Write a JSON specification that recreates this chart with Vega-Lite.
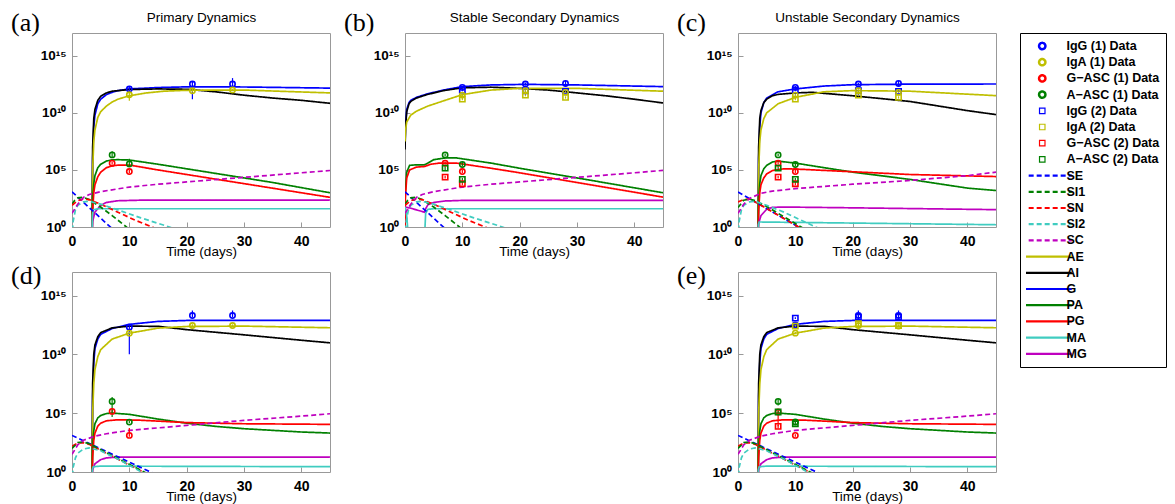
{
"$schema":"https://vega.github.io/schema/vega-lite/v6.json",
"padding":{"left":10,"top":9,"right":5,"bottom":5},
"datasets":{
"curves":[
{"p":"a","s":"G","t":3.5,"v":0.1},{"p":"a","s":"G","t":3.6,"v":1e6},{"p":"a","s":"G","t":3.8,"v":6.31e8},{"p":"a","s":"G","t":4,"v":6.31e9},{"p":"a","s":"G","t":4.5,"v":6.31e10},{"p":"a","s":"G","t":5,"v":1.58e11},{"p":"a","s":"G","t":6,"v":3.98e11},{"p":"a","s":"G","t":7,"v":6.31e11},{"p":"a","s":"G","t":8,"v":8.91e11},{"p":"a","s":"G","t":10,"v":1.26e12},{"p":"a","s":"G","t":15,"v":1.66e12},{"p":"a","s":"G","t":20,"v":1.91e12},{"p":"a","s":"G","t":30,"v":1.86e12},{"p":"a","s":"G","t":45,"v":1.48e12},
{"p":"a","s":"AI","t":3.5,"v":0.1},{"p":"a","s":"AI","t":3.6,"v":1e7},{"p":"a","s":"AI","t":3.8,"v":3.16e9},{"p":"a","s":"AI","t":4,"v":2e10},{"p":"a","s":"AI","t":4.5,"v":1.26e11},{"p":"a","s":"AI","t":5,"v":2.82e11},{"p":"a","s":"AI","t":6,"v":5.62e11},{"p":"a","s":"AI","t":7,"v":7.94e11},{"p":"a","s":"AI","t":10,"v":1.12e12},{"p":"a","s":"AI","t":15,"v":1.26e12},{"p":"a","s":"AI","t":20,"v":1.17e12},{"p":"a","s":"AI","t":25,"v":7.08e11},{"p":"a","s":"AI","t":30,"v":3.55e11},{"p":"a","s":"AI","t":35,"v":2e11},{"p":"a","s":"AI","t":40,"v":1.26e11},{"p":"a","s":"AI","t":45,"v":6.92e10},
{"p":"a","s":"AE","t":3.5,"v":0.1},{"p":"a","s":"AE","t":3.6,"v":1e5},{"p":"a","s":"AE","t":3.8,"v":3.16e7},{"p":"a","s":"AE","t":4,"v":3.16e8},{"p":"a","s":"AE","t":4.5,"v":3.98e9},{"p":"a","s":"AE","t":5,"v":1.26e10},{"p":"a","s":"AE","t":6,"v":3.98e10},{"p":"a","s":"AE","t":7,"v":8.91e10},{"p":"a","s":"AE","t":8,"v":1.58e11},{"p":"a","s":"AE","t":10,"v":3.16e11},{"p":"a","s":"AE","t":13,"v":5.62e11},{"p":"a","s":"AE","t":16,"v":7.94e11},{"p":"a","s":"AE","t":20,"v":9.55e11},{"p":"a","s":"AE","t":30,"v":1e12},{"p":"a","s":"AE","t":45,"v":5.62e11},
{"p":"a","s":"PA","t":3.5,"v":0.1},{"p":"a","s":"PA","t":3.6,"v":316},{"p":"a","s":"PA","t":3.8,"v":6310},{"p":"a","s":"PA","t":4,"v":3.16e4},{"p":"a","s":"PA","t":4.5,"v":1.58e5},{"p":"a","s":"PA","t":5,"v":3.16e5},{"p":"a","s":"PA","t":6,"v":6.03e5},{"p":"a","s":"PA","t":7,"v":7.59e5},{"p":"a","s":"PA","t":8,"v":7.94e5},{"p":"a","s":"PA","t":10,"v":7.41e5},{"p":"a","s":"PA","t":15,"v":3.16e5},{"p":"a","s":"PA","t":20,"v":1.26e5},{"p":"a","s":"PA","t":25,"v":5.01e4},{"p":"a","s":"PA","t":30,"v":2e4},{"p":"a","s":"PA","t":35,"v":7940},{"p":"a","s":"PA","t":40,"v":2820},{"p":"a","s":"PA","t":45,"v":1000},
{"p":"a","s":"PG","t":3.5,"v":0.1},{"p":"a","s":"PG","t":3.6,"v":31.6},{"p":"a","s":"PG","t":3.8,"v":1000},{"p":"a","s":"PG","t":4,"v":5010},{"p":"a","s":"PG","t":4.5,"v":2.51e4},{"p":"a","s":"PG","t":5,"v":6.31e4},{"p":"a","s":"PG","t":6,"v":1.58e5},{"p":"a","s":"PG","t":7,"v":2.24e5},{"p":"a","s":"PG","t":8,"v":2.63e5},{"p":"a","s":"PG","t":10,"v":2.69e5},{"p":"a","s":"PG","t":15,"v":1e5},{"p":"a","s":"PG","t":20,"v":3.98e4},{"p":"a","s":"PG","t":25,"v":1.58e4},{"p":"a","s":"PG","t":30,"v":6310},{"p":"a","s":"PG","t":35,"v":2510},{"p":"a","s":"PG","t":40,"v":1000},{"p":"a","s":"PG","t":45,"v":398},
{"p":"a","s":"MG","t":3.5,"v":0.1},{"p":"a","s":"MG","t":3.6,"v":3.16},{"p":"a","s":"MG","t":4,"v":20},{"p":"a","s":"MG","t":5,"v":79.4},{"p":"a","s":"MG","t":6,"v":141},{"p":"a","s":"MG","t":8,"v":200},{"p":"a","s":"MG","t":12,"v":224},{"p":"a","s":"MG","t":45,"v":224},
{"p":"a","s":"MA","t":3.5,"v":0.1},{"p":"a","s":"MA","t":3.55,"v":10},{"p":"a","s":"MA","t":3.7,"v":31.6},{"p":"a","s":"MA","t":4.5,"v":39.8},{"p":"a","s":"MA","t":45,"v":39.8},
{"p":"a","s":"SE","t":0,"v":1200},{"p":"a","s":"SE","t":8,"v":0.25},
{"p":"a","s":"SI1","t":0,"v":100},{"p":"a","s":"SI1","t":0.5,"v":224},{"p":"a","s":"SI1","t":1,"v":355},{"p":"a","s":"SI1","t":2,"v":398},{"p":"a","s":"SI1","t":3,"v":251},{"p":"a","s":"SI1","t":5,"v":56.2},{"p":"a","s":"SI1","t":7,"v":10},{"p":"a","s":"SI1","t":9,"v":1.58},{"p":"a","s":"SI1","t":10,"v":0.63},
{"p":"a","s":"SN","t":0,"v":79.4},{"p":"a","s":"SN","t":1,"v":200},{"p":"a","s":"SN","t":2,"v":282},{"p":"a","s":"SN","t":3,"v":251},{"p":"a","s":"SN","t":5,"v":100},{"p":"a","s":"SN","t":8,"v":20},{"p":"a","s":"SN","t":11,"v":3.98},{"p":"a","s":"SN","t":14,"v":1},{"p":"a","s":"SN","t":15,"v":0.56},
{"p":"a","s":"SI2","t":0,"v":0.1},{"p":"a","s":"SI2","t":0.2,"v":3.16},{"p":"a","s":"SI2","t":0.6,"v":31.6},{"p":"a","s":"SI2","t":1,"v":79.4},{"p":"a","s":"SI2","t":2,"v":158},{"p":"a","s":"SI2","t":3,"v":178},{"p":"a","s":"SI2","t":5,"v":100},{"p":"a","s":"SI2","t":8,"v":31.6},{"p":"a","s":"SI2","t":12,"v":6.31},{"p":"a","s":"SI2","t":17,"v":1},{"p":"a","s":"SI2","t":18,"v":0.63},
{"p":"a","s":"SC","t":0,"v":15.8},{"p":"a","s":"SC","t":1,"v":100},{"p":"a","s":"SC","t":2,"v":398},{"p":"a","s":"SC","t":3,"v":708},{"p":"a","s":"SC","t":5,"v":1260},{"p":"a","s":"SC","t":10,"v":3160},{"p":"a","s":"SC","t":15,"v":5620},{"p":"a","s":"SC","t":20,"v":8910},{"p":"a","s":"SC","t":30,"v":22400},{"p":"a","s":"SC","t":40,"v":56200},{"p":"a","s":"SC","t":45,"v":89100},

{"p":"b","s":"G","t":0,"v":1e7},{"p":"b","s":"G","t":0.1,"v":1e9},{"p":"b","s":"G","t":0.3,"v":2e10},{"p":"b","s":"G","t":0.7,"v":7.94e10},{"p":"b","s":"G","t":1,"v":1.26e11},{"p":"b","s":"G","t":2,"v":2.29e11},{"p":"b","s":"G","t":3.8,"v":4.47e11},{"p":"b","s":"G","t":6.7,"v":1e12},{"p":"b","s":"G","t":10,"v":2e12},{"p":"b","s":"G","t":15,"v":2.82e12},{"p":"b","s":"G","t":21,"v":3.16e12},{"p":"b","s":"G","t":30,"v":2.82e12},{"p":"b","s":"G","t":45,"v":2e12},
{"p":"b","s":"AI","t":0,"v":6.31e6},{"p":"b","s":"AI","t":0.1,"v":6.31e8},{"p":"b","s":"AI","t":0.3,"v":1.26e10},{"p":"b","s":"AI","t":0.7,"v":6.31e10},{"p":"b","s":"AI","t":1,"v":1e11},{"p":"b","s":"AI","t":2,"v":2e11},{"p":"b","s":"AI","t":3.8,"v":3.98e11},{"p":"b","s":"AI","t":6.7,"v":8.91e11},{"p":"b","s":"AI","t":10,"v":1.58e12},{"p":"b","s":"AI","t":15,"v":1.78e12},{"p":"b","s":"AI","t":20,"v":1.41e12},{"p":"b","s":"AI","t":25,"v":1e12},{"p":"b","s":"AI","t":30,"v":5.62e11},{"p":"b","s":"AI","t":35,"v":3.16e11},{"p":"b","s":"AI","t":40,"v":1.58e11},{"p":"b","s":"AI","t":45,"v":7.41e10},
{"p":"b","s":"AE","t":0,"v":3.16e7},{"p":"b","s":"AE","t":0.1,"v":3.16e8},{"p":"b","s":"AE","t":0.3,"v":1.58e9},{"p":"b","s":"AE","t":1,"v":6.31e9},{"p":"b","s":"AE","t":2,"v":1.41e10},{"p":"b","s":"AE","t":4,"v":3.98e10},{"p":"b","s":"AE","t":7,"v":1.26e11},{"p":"b","s":"AE","t":10,"v":3.98e11},{"p":"b","s":"AE","t":15,"v":1e12},{"p":"b","s":"AE","t":20,"v":1.41e12},{"p":"b","s":"AE","t":30,"v":1.41e12},{"p":"b","s":"AE","t":45,"v":7.94e11},
{"p":"b","s":"PA","t":0,"v":0.1},{"p":"b","s":"PA","t":0.05,"v":1000},{"p":"b","s":"PA","t":0.3,"v":6.31e4},{"p":"b","s":"PA","t":0.8,"v":2.51e5},{"p":"b","s":"PA","t":2,"v":2.82e5},{"p":"b","s":"PA","t":3.4,"v":2.82e5},{"p":"b","s":"PA","t":4,"v":3.98e5},{"p":"b","s":"PA","t":5,"v":7.94e5},{"p":"b","s":"PA","t":7,"v":1.12e6},{"p":"b","s":"PA","t":9,"v":1.12e6},{"p":"b","s":"PA","t":15,"v":3.98e5},{"p":"b","s":"PA","t":20,"v":1.41e5},{"p":"b","s":"PA","t":30,"v":2e4},{"p":"b","s":"PA","t":45,"v":1000},
{"p":"b","s":"PG","t":0,"v":0.1},{"p":"b","s":"PG","t":0.05,"v":316},{"p":"b","s":"PG","t":0.3,"v":2e4},{"p":"b","s":"PG","t":0.8,"v":1e5},{"p":"b","s":"PG","t":2,"v":1.78e5},{"p":"b","s":"PG","t":3.4,"v":2e5},{"p":"b","s":"PG","t":4.5,"v":3.16e5},{"p":"b","s":"PG","t":6,"v":3.98e5},{"p":"b","s":"PG","t":9,"v":3.98e5},{"p":"b","s":"PG","t":15,"v":1.41e5},{"p":"b","s":"PG","t":20,"v":5.62e4},{"p":"b","s":"PG","t":30,"v":7940},{"p":"b","s":"PG","t":45,"v":417},
{"p":"b","s":"MG","t":0,"v":56.2},{"p":"b","s":"MG","t":1,"v":44.7},{"p":"b","s":"MG","t":2,"v":31.6},{"p":"b","s":"MG","t":3.4,"v":20},{"p":"b","s":"MG","t":3.6,"v":39.8},{"p":"b","s":"MG","t":4,"v":89.1},{"p":"b","s":"MG","t":5,"v":141},{"p":"b","s":"MG","t":7,"v":191},{"p":"b","s":"MG","t":10,"v":214},{"p":"b","s":"MG","t":45,"v":214},
{"p":"b","s":"MA","t":0,"v":56.2},{"p":"b","s":"MA","t":0.3,"v":10},{"p":"b","s":"MA","t":0.6,"v":0.1},{"p":"b","s":"MA","t":3.4,"v":0.1},{"p":"b","s":"MA","t":3.6,"v":15.8},{"p":"b","s":"MA","t":4,"v":35.5},{"p":"b","s":"MA","t":5,"v":39.8},{"p":"b","s":"MA","t":45,"v":39.8},
{"p":"b","s":"SE","t":0,"v":1200},{"p":"b","s":"SE","t":8,"v":0.25},
{"p":"b","s":"SI1","t":0,"v":100},{"p":"b","s":"SI1","t":0.5,"v":224},{"p":"b","s":"SI1","t":1,"v":355},{"p":"b","s":"SI1","t":2,"v":398},{"p":"b","s":"SI1","t":3,"v":251},{"p":"b","s":"SI1","t":5,"v":56.2},{"p":"b","s":"SI1","t":7,"v":10},{"p":"b","s":"SI1","t":9,"v":1.58},{"p":"b","s":"SI1","t":10,"v":0.63},
{"p":"b","s":"SN","t":0,"v":79.4},{"p":"b","s":"SN","t":1,"v":200},{"p":"b","s":"SN","t":2,"v":282},{"p":"b","s":"SN","t":3,"v":251},{"p":"b","s":"SN","t":5,"v":100},{"p":"b","s":"SN","t":8,"v":20},{"p":"b","s":"SN","t":11,"v":3.98},{"p":"b","s":"SN","t":14,"v":1},{"p":"b","s":"SN","t":15,"v":0.56},
{"p":"b","s":"SI2","t":0,"v":0.1},{"p":"b","s":"SI2","t":0.2,"v":3.16},{"p":"b","s":"SI2","t":0.6,"v":31.6},{"p":"b","s":"SI2","t":1,"v":79.4},{"p":"b","s":"SI2","t":2,"v":158},{"p":"b","s":"SI2","t":3,"v":178},{"p":"b","s":"SI2","t":5,"v":100},{"p":"b","s":"SI2","t":8,"v":31.6},{"p":"b","s":"SI2","t":12,"v":6.31},{"p":"b","s":"SI2","t":17,"v":1},{"p":"b","s":"SI2","t":18,"v":0.63},
{"p":"b","s":"SC","t":0,"v":15.8},{"p":"b","s":"SC","t":1,"v":100},{"p":"b","s":"SC","t":2,"v":398},{"p":"b","s":"SC","t":3,"v":708},{"p":"b","s":"SC","t":5,"v":1260},{"p":"b","s":"SC","t":10,"v":3160},{"p":"b","s":"SC","t":15,"v":5620},{"p":"b","s":"SC","t":20,"v":8910},{"p":"b","s":"SC","t":30,"v":22400},{"p":"b","s":"SC","t":40,"v":56200},{"p":"b","s":"SC","t":45,"v":91200},

{"p":"c","s":"G","t":3.5,"v":0.1},{"p":"c","s":"G","t":3.6,"v":1e6},{"p":"c","s":"G","t":3.8,"v":6.31e8},{"p":"c","s":"G","t":4,"v":1e10},{"p":"c","s":"G","t":4.5,"v":7.94e10},{"p":"c","s":"G","t":5,"v":2e11},{"p":"c","s":"G","t":7,"v":7.08e11},{"p":"c","s":"G","t":10,"v":1.26e12},{"p":"c","s":"G","t":15,"v":2.24e12},{"p":"c","s":"G","t":20,"v":2.95e12},{"p":"c","s":"G","t":30,"v":3.31e12},{"p":"c","s":"G","t":45,"v":3.39e12},
{"p":"c","s":"AI","t":3.5,"v":0.1},{"p":"c","s":"AI","t":3.6,"v":1e7},{"p":"c","s":"AI","t":3.8,"v":3.16e9},{"p":"c","s":"AI","t":4,"v":1.58e10},{"p":"c","s":"AI","t":4.5,"v":7.94e10},{"p":"c","s":"AI","t":5,"v":1.58e11},{"p":"c","s":"AI","t":6,"v":3.16e11},{"p":"c","s":"AI","t":7,"v":4.17e11},{"p":"c","s":"AI","t":10,"v":5.62e11},{"p":"c","s":"AI","t":13,"v":6.31e11},{"p":"c","s":"AI","t":20,"v":3.16e11},{"p":"c","s":"AI","t":25,"v":1.78e11},{"p":"c","s":"AI","t":30,"v":1e11},{"p":"c","s":"AI","t":35,"v":3.98e10},{"p":"c","s":"AI","t":40,"v":1.58e10},{"p":"c","s":"AI","t":45,"v":7.08e9},
{"p":"c","s":"AE","t":3.5,"v":0.1},{"p":"c","s":"AE","t":3.6,"v":1e5},{"p":"c","s":"AE","t":3.8,"v":3.16e7},{"p":"c","s":"AE","t":4,"v":3.16e8},{"p":"c","s":"AE","t":4.5,"v":3.16e9},{"p":"c","s":"AE","t":5,"v":1e10},{"p":"c","s":"AE","t":7,"v":6.31e10},{"p":"c","s":"AE","t":10,"v":2.29e11},{"p":"c","s":"AE","t":15,"v":7.08e11},{"p":"c","s":"AE","t":20,"v":8.91e11},{"p":"c","s":"AE","t":30,"v":7.94e11},{"p":"c","s":"AE","t":45,"v":3.24e11},
{"p":"c","s":"PA","t":3.5,"v":0.1},{"p":"c","s":"PA","t":3.6,"v":316},{"p":"c","s":"PA","t":3.8,"v":6310},{"p":"c","s":"PA","t":4,"v":3.16e4},{"p":"c","s":"PA","t":4.5,"v":1.26e5},{"p":"c","s":"PA","t":5,"v":2.51e5},{"p":"c","s":"PA","t":6,"v":5.01e5},{"p":"c","s":"PA","t":7,"v":5.89e5},{"p":"c","s":"PA","t":10,"v":3.98e5},{"p":"c","s":"PA","t":15,"v":1.58e5},{"p":"c","s":"PA","t":20,"v":6.46e4},{"p":"c","s":"PA","t":30,"v":1.48e4},{"p":"c","s":"PA","t":40,"v":2570},{"p":"c","s":"PA","t":45,"v":1580},
{"p":"c","s":"PG","t":3.5,"v":0.1},{"p":"c","s":"PG","t":3.6,"v":31.6},{"p":"c","s":"PG","t":3.8,"v":1000},{"p":"c","s":"PG","t":4,"v":5010},{"p":"c","s":"PG","t":4.5,"v":2e4},{"p":"c","s":"PG","t":5,"v":4.47e4},{"p":"c","s":"PG","t":6,"v":8.91e4},{"p":"c","s":"PG","t":8,"v":1.26e5},{"p":"c","s":"PG","t":10,"v":1.2e5},{"p":"c","s":"PG","t":20,"v":6.92e4},{"p":"c","s":"PG","t":30,"v":3.98e4},{"p":"c","s":"PG","t":45,"v":2.63e4},
{"p":"c","s":"MG","t":3.5,"v":0.1},{"p":"c","s":"MG","t":3.6,"v":2},{"p":"c","s":"MG","t":4,"v":10},{"p":"c","s":"MG","t":5,"v":35.5},{"p":"c","s":"MG","t":6,"v":52.5},{"p":"c","s":"MG","t":8,"v":56.2},{"p":"c","s":"MG","t":20,"v":47.9},{"p":"c","s":"MG","t":45,"v":33.1},
{"p":"c","s":"MA","t":3.5,"v":0.1},{"p":"c","s":"MA","t":3.55,"v":1.58},{"p":"c","s":"MA","t":3.7,"v":2.75},{"p":"c","s":"MA","t":45,"v":1.58},
{"p":"c","s":"SE","t":0,"v":1150},{"p":"c","s":"SE","t":12,"v":0.38},
{"p":"c","s":"SN","t":0,"v":158},{"p":"c","s":"SN","t":1,"v":251},{"p":"c","s":"SN","t":2,"v":282},{"p":"c","s":"SN","t":3,"v":158},{"p":"c","s":"SN","t":12,"v":0.38},
{"p":"c","s":"SI1","t":0,"v":50.1},{"p":"c","s":"SI1","t":1,"v":224},{"p":"c","s":"SI1","t":2,"v":282},{"p":"c","s":"SI1","t":3,"v":200},{"p":"c","s":"SI1","t":5,"v":63.1},{"p":"c","s":"SI1","t":10,"v":2},{"p":"c","s":"SI1","t":11,"v":1},{"p":"c","s":"SI1","t":12,"v":0.5},
{"p":"c","s":"SI2","t":0,"v":0.1},{"p":"c","s":"SI2","t":0.2,"v":3.16},{"p":"c","s":"SI2","t":0.6,"v":31.6},{"p":"c","s":"SI2","t":1,"v":79.4},{"p":"c","s":"SI2","t":2,"v":158},{"p":"c","s":"SI2","t":3,"v":178},{"p":"c","s":"SI2","t":5,"v":79.4},{"p":"c","s":"SI2","t":8,"v":20},{"p":"c","s":"SI2","t":11,"v":3.98},{"p":"c","s":"SI2","t":14,"v":0.79},
{"p":"c","s":"SC","t":0,"v":15.8},{"p":"c","s":"SC","t":1,"v":100},{"p":"c","s":"SC","t":2,"v":316},{"p":"c","s":"SC","t":4,"v":891},{"p":"c","s":"SC","t":6,"v":1410},{"p":"c","s":"SC","t":10,"v":2290},{"p":"c","s":"SC","t":20,"v":5620},{"p":"c","s":"SC","t":30,"v":12000},{"p":"c","s":"SC","t":40,"v":31600},{"p":"c","s":"SC","t":45,"v":64600},

{"p":"d","s":"G","t":3.5,"v":0.1},{"p":"d","s":"G","t":3.6,"v":3.16e6},{"p":"d","s":"G","t":3.8,"v":2e9},{"p":"d","s":"G","t":4,"v":3.16e10},{"p":"d","s":"G","t":4.5,"v":2e11},{"p":"d","s":"G","t":5,"v":5.01e11},{"p":"d","s":"G","t":7,"v":1.58e12},{"p":"d","s":"G","t":10,"v":3.55e12},{"p":"d","s":"G","t":15,"v":6.31e12},{"p":"d","s":"G","t":20,"v":7.59e12},{"p":"d","s":"G","t":45,"v":7.59e12},
{"p":"d","s":"AI","t":3.5,"v":0.1},{"p":"d","s":"AI","t":3.6,"v":3.16e7},{"p":"d","s":"AI","t":3.8,"v":1e10},{"p":"d","s":"AI","t":4,"v":6.31e10},{"p":"d","s":"AI","t":4.5,"v":3.16e11},{"p":"d","s":"AI","t":5,"v":7.08e11},{"p":"d","s":"AI","t":7,"v":1.78e12},{"p":"d","s":"AI","t":10,"v":2.51e12},{"p":"d","s":"AI","t":15,"v":2.4e12},{"p":"d","s":"AI","t":20,"v":1.26e12},{"p":"d","s":"AI","t":30,"v":4.57e11},{"p":"d","s":"AI","t":40,"v":1.58e11},{"p":"d","s":"AI","t":45,"v":9.55e10},
{"p":"d","s":"AE","t":3.5,"v":0.1},{"p":"d","s":"AE","t":3.6,"v":1e5},{"p":"d","s":"AE","t":3.8,"v":3.16e7},{"p":"d","s":"AE","t":4,"v":5.01e8},{"p":"d","s":"AE","t":4.5,"v":6.31e9},{"p":"d","s":"AE","t":5,"v":2.51e10},{"p":"d","s":"AE","t":7,"v":2e11},{"p":"d","s":"AE","t":10,"v":6.31e11},{"p":"d","s":"AE","t":15,"v":1.7e12},{"p":"d","s":"AE","t":20,"v":2.34e12},{"p":"d","s":"AE","t":30,"v":2.51e12},{"p":"d","s":"AE","t":45,"v":1.82e12},
{"p":"d","s":"PA","t":3.5,"v":0.1},{"p":"d","s":"PA","t":3.6,"v":200},{"p":"d","s":"PA","t":3.8,"v":3160},{"p":"d","s":"PA","t":4,"v":1.26e4},{"p":"d","s":"PA","t":4.5,"v":3.98e4},{"p":"d","s":"PA","t":5,"v":6.31e4},{"p":"d","s":"PA","t":6,"v":9.33e4},{"p":"d","s":"PA","t":7,"v":1.02e5},{"p":"d","s":"PA","t":10,"v":7.94e4},{"p":"d","s":"PA","t":15,"v":3.16e4},{"p":"d","s":"PA","t":20,"v":1.41e4},{"p":"d","s":"PA","t":25,"v":7590},{"p":"d","s":"PA","t":30,"v":4790},{"p":"d","s":"PA","t":40,"v":2510},{"p":"d","s":"PA","t":45,"v":2040},
{"p":"d","s":"PG","t":3.5,"v":0.1},{"p":"d","s":"PG","t":3.6,"v":20},{"p":"d","s":"PG","t":3.8,"v":501},{"p":"d","s":"PG","t":4,"v":2000},{"p":"d","s":"PG","t":4.5,"v":7940},{"p":"d","s":"PG","t":5,"v":1.41e4},{"p":"d","s":"PG","t":6,"v":2.24e4},{"p":"d","s":"PG","t":8,"v":2.75e4},{"p":"d","s":"PG","t":12,"v":2.51e4},{"p":"d","s":"PG","t":20,"v":1.58e4},{"p":"d","s":"PG","t":30,"v":1.26e4},{"p":"d","s":"PG","t":45,"v":1.12e4},
{"p":"d","s":"MG","t":3.5,"v":0.1},{"p":"d","s":"MG","t":3.6,"v":1.58},{"p":"d","s":"MG","t":4,"v":5.01},{"p":"d","s":"MG","t":5,"v":11.2},{"p":"d","s":"MG","t":6,"v":15.8},{"p":"d","s":"MG","t":8,"v":18.6},{"p":"d","s":"MG","t":45,"v":18.6},
{"p":"d","s":"MA","t":3.5,"v":0.1},{"p":"d","s":"MA","t":3.55,"v":1.58},{"p":"d","s":"MA","t":3.7,"v":2.82},{"p":"d","s":"MA","t":5,"v":3.16},{"p":"d","s":"MA","t":45,"v":2.82},
{"p":"d","s":"SE","t":0,"v":1290},{"p":"d","s":"SE","t":15,"v":0.5},
{"p":"d","s":"SN","t":0,"v":158},{"p":"d","s":"SN","t":1,"v":282},{"p":"d","s":"SN","t":2,"v":316},{"p":"d","s":"SN","t":3,"v":224},{"p":"d","s":"SN","t":6,"v":39.8},{"p":"d","s":"SN","t":9,"v":7.08},{"p":"d","s":"SN","t":12,"v":1.26},{"p":"d","s":"SN","t":13,"v":0.71},
{"p":"d","s":"SI1","t":0,"v":100},{"p":"d","s":"SI1","t":1,"v":316},{"p":"d","s":"SI1","t":2,"v":355},{"p":"d","s":"SI1","t":3,"v":251},{"p":"d","s":"SI1","t":6,"v":44.7},{"p":"d","s":"SI1","t":9,"v":7.94},{"p":"d","s":"SI1","t":12,"v":1.41},{"p":"d","s":"SI1","t":13,"v":0.79},
{"p":"d","s":"SI2","t":0,"v":0.1},{"p":"d","s":"SI2","t":0.2,"v":2.51},{"p":"d","s":"SI2","t":0.6,"v":15.8},{"p":"d","s":"SI2","t":1,"v":39.8},{"p":"d","s":"SI2","t":2,"v":89.1},{"p":"d","s":"SI2","t":3,"v":112},{"p":"d","s":"SI2","t":5,"v":63.1},{"p":"d","s":"SI2","t":8,"v":12.6},{"p":"d","s":"SI2","t":11,"v":2},{"p":"d","s":"SI2","t":12.5,"v":0.79},
{"p":"d","s":"SC","t":0,"v":31.6},{"p":"d","s":"SC","t":1,"v":200},{"p":"d","s":"SC","t":2,"v":501},{"p":"d","s":"SC","t":4,"v":1120},{"p":"d","s":"SC","t":6,"v":1780},{"p":"d","s":"SC","t":10,"v":3470},{"p":"d","s":"SC","t":20,"v":9120},{"p":"d","s":"SC","t":30,"v":24500},{"p":"d","s":"SC","t":40,"v":56200},{"p":"d","s":"SC","t":45,"v":89100}
],
"pts":[
{"p":"a","s":"IgG (1) Data","t":10,"v":1.23e12,"lo":7.08e11,"hi":2e12},{"p":"a","s":"IgG (1) Data","t":21,"v":3.39e12,"lo":1.58e11,"hi":5.62e12},{"p":"a","s":"IgG (1) Data","t":28,"v":3.39e12,"lo":1.58e12,"hi":1.12e13},
{"p":"a","s":"IgA (1) Data","t":10,"v":3.89e11,"lo":1.17e11,"hi":7.94e11},{"p":"a","s":"IgA (1) Data","t":21,"v":8.71e11,"lo":6.31e11,"hi":1.26e12},{"p":"a","s":"IgA (1) Data","t":28,"v":1e12,"lo":7.94e11,"hi":1.26e12},
{"p":"a","s":"G−ASC (1) Data","t":7,"v":3.89e5,"lo":2.82e5,"hi":5.62e5},{"p":"a","s":"G−ASC (1) Data","t":10,"v":7.24e4,"lo":5.01e4,"hi":1e5},
{"p":"a","s":"A−ASC (1) Data","t":7,"v":2.09e6,"lo":1.32e6,"hi":4.37e6},{"p":"a","s":"A−ASC (1) Data","t":10,"v":3.39e5,"lo":1.74e5,"hi":9.33e5},
{"p":"bc","s":"IgG (1) Data","t":10,"v":1.7e12,"lo":1.26e12,"hi":2.24e12},{"p":"bc","s":"IgG (1) Data","t":21,"v":3.39e12,"lo":2.51e12,"hi":4.47e12},{"p":"bc","s":"IgG (1) Data","t":28,"v":3.8e12,"lo":2.24e12,"hi":6.31e12},
{"p":"bc","s":"IgG (2) Data","t":10,"v":1e12,"lo":7.94e11,"hi":1.26e12},{"p":"bc","s":"IgG (2) Data","t":21,"v":8.71e11,"lo":7.08e11,"hi":1.07e12},{"p":"bc","s":"IgG (2) Data","t":28,"v":7.59e11,"lo":5.62e11,"hi":1e12},
{"p":"bc","s":"IgA (1) Data","t":10,"v":3.63e11,"lo":2.82e11,"hi":4.47e11},{"p":"bc","s":"IgA (1) Data","t":21,"v":8.91e11,"lo":7.08e11,"hi":1.12e12},{"p":"bc","s":"IgA (1) Data","t":28,"v":6.31e11,"lo":5.01e11,"hi":7.94e11},
{"p":"bc","s":"IgA (2) Data","t":10,"v":1.62e11,"lo":1.26e11,"hi":2e11},{"p":"bc","s":"IgA (2) Data","t":21,"v":3.63e11,"lo":2.82e11,"hi":4.47e11},{"p":"bc","s":"IgA (2) Data","t":28,"v":2.29e11,"lo":1.78e11,"hi":2.82e11},
{"p":"bc","s":"G−ASC (1) Data","t":7,"v":3.89e5,"lo":2.82e5,"hi":5.62e5},{"p":"bc","s":"G−ASC (1) Data","t":10,"v":7.24e4,"lo":5.01e4,"hi":1e5},
{"p":"bc","s":"G−ASC (2) Data","t":7,"v":2.34e4,"lo":1.78e4,"hi":3.16e4},{"p":"bc","s":"G−ASC (2) Data","t":10,"v":6170,"lo":4470,"hi":8910},
{"p":"bc","s":"A−ASC (1) Data","t":7,"v":2.09e6,"lo":1.58e6,"hi":2.82e6},{"p":"bc","s":"A−ASC (1) Data","t":10,"v":3.02e5,"lo":2.24e5,"hi":5.01e5},
{"p":"bc","s":"A−ASC (2) Data","t":7,"v":1.45e5,"lo":1e5,"hi":2e5},{"p":"bc","s":"A−ASC (2) Data","t":10,"v":1.48e4,"lo":1.12e4,"hi":2e4},
{"p":"d","s":"IgG (1) Data","t":10,"v":2.04e12,"lo":1e10,"hi":3.16e12},{"p":"d","s":"IgG (1) Data","t":21,"v":2e13,"lo":1.45e13,"hi":5.37e13},{"p":"d","s":"IgG (1) Data","t":28,"v":2e13,"lo":1.45e13,"hi":5.37e13},
{"p":"d","s":"IgA (1) Data","t":10,"v":6.31e11,"lo":5.01e11,"hi":7.94e11},{"p":"d","s":"IgA (1) Data","t":21,"v":2.82e12,"lo":2.24e12,"hi":3.55e12},{"p":"d","s":"IgA (1) Data","t":28,"v":2.82e12,"lo":2.24e12,"hi":3.55e12},
{"p":"d","s":"G−ASC (1) Data","t":7,"v":1.41e5,"lo":1e5,"hi":2e5},{"p":"d","s":"G−ASC (1) Data","t":10,"v":1290,"lo":1000,"hi":5370},
{"p":"d","s":"A−ASC (1) Data","t":7,"v":1e6,"lo":4.68e4,"hi":2.34e6},{"p":"d","s":"A−ASC (1) Data","t":10,"v":1.74e4,"lo":1.41e4,"hi":2.24e4},
{"p":"e","s":"IgG (1) Data","t":10,"v":3.16e12,"lo":2.51e12,"hi":3.98e12},{"p":"e","s":"IgG (1) Data","t":21,"v":2e13,"lo":1.45e13,"hi":5.37e13},{"p":"e","s":"IgG (1) Data","t":28,"v":2e13,"lo":1.45e13,"hi":5.37e13},
{"p":"e","s":"IgG (2) Data","t":10,"v":1.2e13,"lo":1e13,"hi":1.45e13},{"p":"e","s":"IgG (2) Data","t":21,"v":1.45e13,"lo":1.2e13,"hi":1.78e13},{"p":"e","s":"IgG (2) Data","t":28,"v":1.45e13,"lo":1.2e13,"hi":1.78e13},
{"p":"e","s":"IgA (1) Data","t":10,"v":6.31e11,"lo":5.01e11,"hi":7.94e11},{"p":"e","s":"IgA (1) Data","t":21,"v":2.82e12,"lo":1.26e12,"hi":3.55e12},{"p":"e","s":"IgA (1) Data","t":28,"v":2.51e12,"lo":2e12,"hi":3.16e12},
{"p":"e","s":"IgA (2) Data","t":10,"v":2.51e12,"lo":2e12,"hi":3.16e12},{"p":"e","s":"IgA (2) Data","t":21,"v":3.98e12,"lo":3.16e12,"hi":5.01e12},{"p":"e","s":"IgA (2) Data","t":28,"v":2.82e12,"lo":2.24e12,"hi":3.55e12},
{"p":"e","s":"G−ASC (1) Data","t":7,"v":1.26e5,"lo":7590,"hi":2e5},{"p":"e","s":"G−ASC (1) Data","t":10,"v":1290,"lo":1000,"hi":1580},
{"p":"e","s":"G−ASC (2) Data","t":7,"v":7590,"lo":5010,"hi":1e4},
{"p":"e","s":"A−ASC (1) Data","t":7,"v":1e6,"lo":4.47e5,"hi":1.58e6},{"p":"e","s":"A−ASC (1) Data","t":10,"v":1.78e4,"lo":1.41e4,"hi":2.24e4},
{"p":"e","s":"A−ASC (2) Data","t":7,"v":1.26e5,"lo":1e5,"hi":1.58e5},{"p":"e","s":"A−ASC (2) Data","t":10,"v":1.26e4,"lo":1e4,"hi":1.58e4}
]
},
"columns":3,
"bounds":"flush",
"spacing":{"column":75,"row":45},
"concat":[
{"width":258,"height":194,"title":{"text":"(a)","dy":29.5},
 "layer":[
  {"data":{"name":"curves"},"transform":[{"filter":"datum.p=='a'"}],"mark":{"type":"line","clip":true,"strokeWidth":1.7},
   "encoding":{
    "x":{"field":"t","type":"quantitative","scale":{"domain":[0,45],"nice":false},"axis":{"values":[0,10,20,30,40],"title":"Time (days)"}},
    "y":{"field":"v","type":"quantitative","scale":{"type":"log","domain":[1,1e17],"nice":false},"axis":{"values":[1,100000,10000000000,1000000000000000],"labelExpr":"datum.value < 10 ? '10⁰' : datum.value < 1000000 ? '10⁵' : datum.value < 100000000000 ? '10¹⁰' : '10¹⁵'","title":"Primary Dynamics","titleAngle":0,"titleX":129,"titleY":-11.5,"titleAlign":"center","titleBaseline":"alphabetic","titleFontSize":13.5}},
    "color":{"field":"s","type":"nominal",
      "scale":{"domain":["IgG (1) Data","IgA (1) Data","G−ASC (1) Data","A−ASC (1) Data","IgG (2) Data","IgA (2) Data","G−ASC (2) Data","A−ASC (2) Data","SE","SI1","SN","SI2","SC","AE","AI","G","PA","PG","MA","MG"],
        "range":["#0000ff","#bfbf00","#ff0000","#008000","#0000ff","#bfbf00","#ff0000","#008000","#0000ff","#008000","#ff0000","#40ccc0","#bf00bf","#bfbf00","#000000","#0000ff","#008000","#ff0000","#40ccc0","#bf00bf"]},
      "legend":{"title":null,"orient":"right","offset":23,"strokeColor":"#000000","fillColor":"#ffffff","padding":6,"symbolSize":1300,"clipHeight":14,"rowPadding":2.2,"labelFont":"Liberation Sans","labelFontSize":12.5,"labelFontWeight":"bold","labelColor":"#000000","labelOffset":18,"symbolOffset":10,"symbolStrokeWidth":2,
        "encode":{"symbols":{"update":{"fill":{"value":"transparent"},"size":{"signal":"datum.index < 4 ? 40 : datum.index < 8 ? 30 : 3500"},"strokeWidth":{"signal":"datum.index < 4 ? 2.5 : datum.index < 8 ? 1.2 : 2.2"}}}}}},
    "strokeDash":{"field":"s","type":"nominal",
      "scale":{"domain":["IgG (1) Data","IgA (1) Data","G−ASC (1) Data","A−ASC (1) Data","IgG (2) Data","IgA (2) Data","G−ASC (2) Data","A−ASC (2) Data","SE","SI1","SN","SI2","SC","AE","AI","G","PA","PG","MA","MG"],
        "range":[[1,0],[1,0],[1,0],[1,0],[1,0],[1,0],[1,0],[1,0],[5,3],[5,3],[5,3],[5,3],[5,3],[1,0],[1,0],[1,0],[1,0],[1,0],[1,0],[1,0]]}}
   }},
  {"data":{"name":"pts"},"transform":[{"filter":"datum.p=='a'"}],"mark":{"type":"rule","clip":true,"strokeWidth":1.2},
   "encoding":{"x":{"field":"t","type":"quantitative"},"y":{"field":"lo","type":"quantitative"},"y2":{"field":"hi"},"color":{"field":"s","type":"nominal"}}},
  {"data":{"name":"pts"},"transform":[{"filter":"datum.p=='a'"}],"mark":{"type":"point","clip":true,"filled":false,"size":28,"strokeWidth":1.6,"opacity":1},
   "encoding":{"x":{"field":"t","type":"quantitative"},"y":{"field":"v","type":"quantitative"},"color":{"field":"s","type":"nominal"},
    "shape":{"field":"s","type":"nominal","scale":{"domain":["IgG (1) Data","IgA (1) Data","G−ASC (1) Data","A−ASC (1) Data","IgG (2) Data","IgA (2) Data","G−ASC (2) Data","A−ASC (2) Data","SE","SI1","SN","SI2","SC","AE","AI","G","PA","PG","MA","MG"],
      "range":["circle","circle","circle","circle","square","square","square","square","stroke","stroke","stroke","stroke","stroke","stroke","stroke","stroke","stroke","stroke","stroke","stroke"]}}}}
 ]},
{"width":258,"height":194,"title":{"text":"(b)","dy":29.5},
 "layer":[
  {"data":{"name":"curves"},"transform":[{"filter":"datum.p=='b'"}],"mark":{"type":"line","clip":true,"strokeWidth":1.7},
   "encoding":{
    "x":{"field":"t","type":"quantitative","scale":{"domain":[0,45],"nice":false},"axis":{"values":[0,10,20,30,40],"title":"Time (days)"}},
    "y":{"field":"v","type":"quantitative","scale":{"type":"log","domain":[1,1e17],"nice":false},"axis":{"values":[1,100000,10000000000,1000000000000000],"labelExpr":"datum.value < 10 ? '10⁰' : datum.value < 1000000 ? '10⁵' : datum.value < 100000000000 ? '10¹⁰' : '10¹⁵'","title":"Stable Secondary Dynamics","titleAngle":0,"titleX":129,"titleY":-11.5,"titleAlign":"center","titleBaseline":"alphabetic","titleFontSize":13.5}},
    "color":{"field":"s","type":"nominal"},"strokeDash":{"field":"s","type":"nominal"}}},
  {"data":{"name":"pts"},"transform":[{"filter":"datum.p=='bc'"}],"mark":{"type":"rule","clip":true,"strokeWidth":1.2},
   "encoding":{"x":{"field":"t","type":"quantitative"},"y":{"field":"lo","type":"quantitative"},"y2":{"field":"hi"},"color":{"field":"s","type":"nominal"}}},
  {"data":{"name":"pts"},"transform":[{"filter":"datum.p=='bc'"}],"mark":{"type":"point","clip":true,"filled":false,"size":28,"strokeWidth":1.6,"opacity":1},
   "encoding":{"x":{"field":"t","type":"quantitative"},"y":{"field":"v","type":"quantitative"},"color":{"field":"s","type":"nominal"},"shape":{"field":"s","type":"nominal"}}}
 ]},
{"width":258,"height":194,"title":{"text":"(c)","dy":29.5},
 "layer":[
  {"data":{"name":"curves"},"transform":[{"filter":"datum.p=='c'"}],"mark":{"type":"line","clip":true,"strokeWidth":1.7},
   "encoding":{
    "x":{"field":"t","type":"quantitative","scale":{"domain":[0,45],"nice":false},"axis":{"values":[0,10,20,30,40],"title":"Time (days)"}},
    "y":{"field":"v","type":"quantitative","scale":{"type":"log","domain":[1,1e17],"nice":false},"axis":{"values":[1,100000,10000000000,1000000000000000],"labelExpr":"datum.value < 10 ? '10⁰' : datum.value < 1000000 ? '10⁵' : datum.value < 100000000000 ? '10¹⁰' : '10¹⁵'","title":"Unstable Secondary Dynamics","titleAngle":0,"titleX":129,"titleY":-11.5,"titleAlign":"center","titleBaseline":"alphabetic","titleFontSize":13.5}},
    "color":{"field":"s","type":"nominal"},"strokeDash":{"field":"s","type":"nominal"}}},
  {"data":{"name":"pts"},"transform":[{"filter":"datum.p=='bc'"}],"mark":{"type":"rule","clip":true,"strokeWidth":1.2},
   "encoding":{"x":{"field":"t","type":"quantitative"},"y":{"field":"lo","type":"quantitative"},"y2":{"field":"hi"},"color":{"field":"s","type":"nominal"}}},
  {"data":{"name":"pts"},"transform":[{"filter":"datum.p=='bc'"}],"mark":{"type":"point","clip":true,"filled":false,"size":28,"strokeWidth":1.6,"opacity":1},
   "encoding":{"x":{"field":"t","type":"quantitative"},"y":{"field":"v","type":"quantitative"},"color":{"field":"s","type":"nominal"},"shape":{"field":"s","type":"nominal"}}}
 ]},
{"width":258,"height":200,"title":{"text":"(d)","dy":20.5},
 "layer":[
  {"data":{"name":"curves"},"transform":[{"filter":"datum.p=='d'"}],"mark":{"type":"line","clip":true,"strokeWidth":1.7},
   "encoding":{
    "x":{"field":"t","type":"quantitative","scale":{"domain":[0,45],"nice":false},"axis":{"values":[0,10,20,30,40],"title":"Time (days)"}},
    "y":{"field":"v","type":"quantitative","scale":{"type":"log","domain":[1,1e17],"nice":false},"axis":{"values":[1,100000,10000000000,1000000000000000],"labelExpr":"datum.value < 10 ? '10⁰' : datum.value < 1000000 ? '10⁵' : datum.value < 100000000000 ? '10¹⁰' : '10¹⁵'","title":null}},
    "color":{"field":"s","type":"nominal"},"strokeDash":{"field":"s","type":"nominal"}}},
  {"data":{"name":"pts"},"transform":[{"filter":"datum.p=='d'"}],"mark":{"type":"rule","clip":true,"strokeWidth":1.2},
   "encoding":{"x":{"field":"t","type":"quantitative"},"y":{"field":"lo","type":"quantitative"},"y2":{"field":"hi"},"color":{"field":"s","type":"nominal"}}},
  {"data":{"name":"pts"},"transform":[{"filter":"datum.p=='d'"}],"mark":{"type":"point","clip":true,"filled":false,"size":28,"strokeWidth":1.6,"opacity":1},
   "encoding":{"x":{"field":"t","type":"quantitative"},"y":{"field":"v","type":"quantitative"},"color":{"field":"s","type":"nominal"},"shape":{"field":"s","type":"nominal"}}}
 ]},
{"width":258,"height":200,"data":{"values":[]},"mark":"point","view":{"stroke":null}},
{"width":258,"height":200,"title":{"text":"(e)","dy":20.5},
 "layer":[
  {"data":{"name":"curves"},"transform":[{"filter":"datum.p=='d'"}],"mark":{"type":"line","clip":true,"strokeWidth":1.7},
   "encoding":{
    "x":{"field":"t","type":"quantitative","scale":{"domain":[0,45],"nice":false},"axis":{"values":[0,10,20,30,40],"title":"Time (days)"}},
    "y":{"field":"v","type":"quantitative","scale":{"type":"log","domain":[1,1e17],"nice":false},"axis":{"values":[1,100000,10000000000,1000000000000000],"labelExpr":"datum.value < 10 ? '10⁰' : datum.value < 1000000 ? '10⁵' : datum.value < 100000000000 ? '10¹⁰' : '10¹⁵'","title":null}},
    "color":{"field":"s","type":"nominal"},"strokeDash":{"field":"s","type":"nominal"}}},
  {"data":{"name":"pts"},"transform":[{"filter":"datum.p=='e'"}],"mark":{"type":"rule","clip":true,"strokeWidth":1.2},
   "encoding":{"x":{"field":"t","type":"quantitative"},"y":{"field":"lo","type":"quantitative"},"y2":{"field":"hi"},"color":{"field":"s","type":"nominal"}}},
  {"data":{"name":"pts"},"transform":[{"filter":"datum.p=='e'"}],"mark":{"type":"point","clip":true,"filled":false,"size":28,"strokeWidth":1.6,"opacity":1},
   "encoding":{"x":{"field":"t","type":"quantitative"},"y":{"field":"v","type":"quantitative"},"color":{"field":"s","type":"nominal"},"shape":{"field":"s","type":"nominal"}}}
 ]}
],
"config":{
 "font":"Liberation Sans",
 "view":{"stroke":"#999999"},
 "axis":{"grid":false,"domain":false,"ticks":true,"tickSize":-5,"tickColor":"#999999","labelColor":"#000000","labelFont":"Liberation Sans","labelFontWeight":"bold","labelFlush":false,"labelOverlap":false,"titleColor":"#000000","titleFont":"Liberation Sans","titleFontWeight":"normal"},
 "axisX":{"labelFontSize":14,"labelPadding":12,"titleFontSize":13.5,"titlePadding":-4},
 "axisY":{"labelFontSize":13.5,"labelPadding":11},
 "title":{"font":"Liberation Serif","fontSize":26,"fontWeight":"normal","anchor":"start","frame":"group","offset":0,"dx":-61,"baseline":"alphabetic","color":"#000000"}
}
}
